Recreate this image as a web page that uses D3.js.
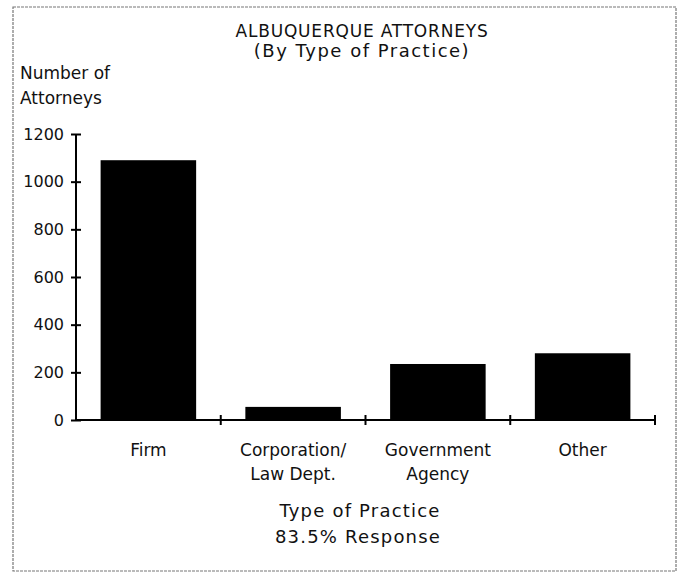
<!DOCTYPE html>
<html>
<head>
<meta charset="utf-8">
<script src="https://cdn.jsdelivr.net/npm/d3@7"></script>
<style>
  html, body { margin: 0; padding: 0; background: #fff; }
  svg text { font-family: "DejaVu Sans", sans-serif; fill: #111; }
</style>
</head>
<body>
<svg id="chart" width="681" height="573"></svg>
<script>
const categories = ["Firm", "Corporation/\nLaw Dept.", "Government\nAgency", "Other"];
const attorneys = [1090, 55, 235, 280];
const yTicks = [0, 200, 400, 600, 800, 1000, 1200];
const titleLines = ["ALBUQUERQUE ATTORNEYS", "(By Type of Practice)"];
const yTitleLines = ["Number of", "Attorneys"];
const xTitleLines = ["Type of Practice", "83.5% Response"];

const svg = d3.select("#chart");
const plot = { left: 76, right: 655, top: 134, bottom: 420 };

const x = d3.scaleBand().domain(categories).range([plot.left, plot.right])
  .paddingInner(0.34).paddingOuter(0.17);
const y = d3.scaleLinear().domain([0, 1200]).range([plot.bottom, plot.top]);

// frame
svg.append("rect").attr("x", 13).attr("y", 7).attr("width", 663).attr("height", 564)
  .attr("fill", "none").attr("stroke", "#777").attr("stroke-width", 1.2)
  .attr("stroke-dasharray", "3,1");

// bars
svg.append("g").selectAll("rect").data(categories).join("rect")
  .attr("x", d => x(d)).attr("width", x.bandwidth())
  .attr("y", (d, i) => y(attorneys[i]))
  .attr("height", (d, i) => y(0) - y(attorneys[i]))
  .attr("fill", "#000");

// y axis
const yAxis = svg.append("g").attr("transform", `translate(${plot.left},0)`)
  .call(d3.axisLeft(y).tickValues(yTicks).tickSize(5).tickPadding(9).tickFormat(d3.format("d")));
yAxis.select(".domain").attr("stroke", "#000").attr("stroke-width", 2).attr("d", `M0,${plot.top}V${plot.bottom}`);
yAxis.selectAll(".tick line").attr("x1", -5).attr("x2", 5).attr("stroke", "#000").attr("stroke-width", 2);
yAxis.selectAll(".tick text").attr("font-size", 16).attr("x", -12).style("font-family", "DejaVu Sans");

// x axis: boundary ticks
const step = x.step();
const boundaries = categories.map(d => x(d) + x.bandwidth() + step * x.paddingInner() / 2);
const xg = svg.append("g");
xg.append("line").attr("x1", plot.left).attr("x2", boundaries[boundaries.length - 1])
  .attr("y1", y(0)).attr("y2", y(0)).attr("stroke", "#000").attr("stroke-width", 2);
xg.selectAll("line.tk").data(boundaries).join("line").attr("class", "tk")
  .attr("x1", d => d).attr("x2", d => d).attr("y1", y(0) - 5).attr("y2", y(0) + 5)
  .attr("stroke", "#000").attr("stroke-width", 2);

// x labels
const xl = svg.append("g").selectAll("text").data(categories).join("text")
  .attr("text-anchor", "middle").attr("font-size", 17)
  .attr("transform", d => `translate(${x(d) + x.bandwidth() / 2},456)`);
xl.selectAll("tspan").data(d => d.split("\n")).join("tspan")
  .attr("x", 0).attr("dy", (d, i) => i === 0 ? 0 : 24).text(d => d);

// title
const cx = 362;
svg.append("text").attr("x", cx).attr("y", 37).attr("text-anchor", "middle")
  .attr("font-size", 17).attr("letter-spacing", 0.8).text(titleLines[0]);
svg.append("text").attr("x", cx).attr("y", 57).attr("text-anchor", "middle")
  .attr("font-size", 18).attr("letter-spacing", 1.5).text(titleLines[1]);

// y title
svg.append("text").attr("x", 20).attr("y", 79).attr("font-size", 17).text(yTitleLines[0]);
svg.append("text").attr("x", 20).attr("y", 104).attr("font-size", 17).text(yTitleLines[1]);

// x title
svg.append("text").attr("x", cx - 2).attr("y", 517).attr("text-anchor", "middle")
  .attr("font-size", 18).attr("letter-spacing", 1.2).text(xTitleLines[0]);
svg.append("text").attr("x", cx - 4).attr("y", 543).attr("text-anchor", "middle")
  .attr("font-size", 18).attr("letter-spacing", 1.2).text(xTitleLines[1]);
</script>
</body>
</html>
